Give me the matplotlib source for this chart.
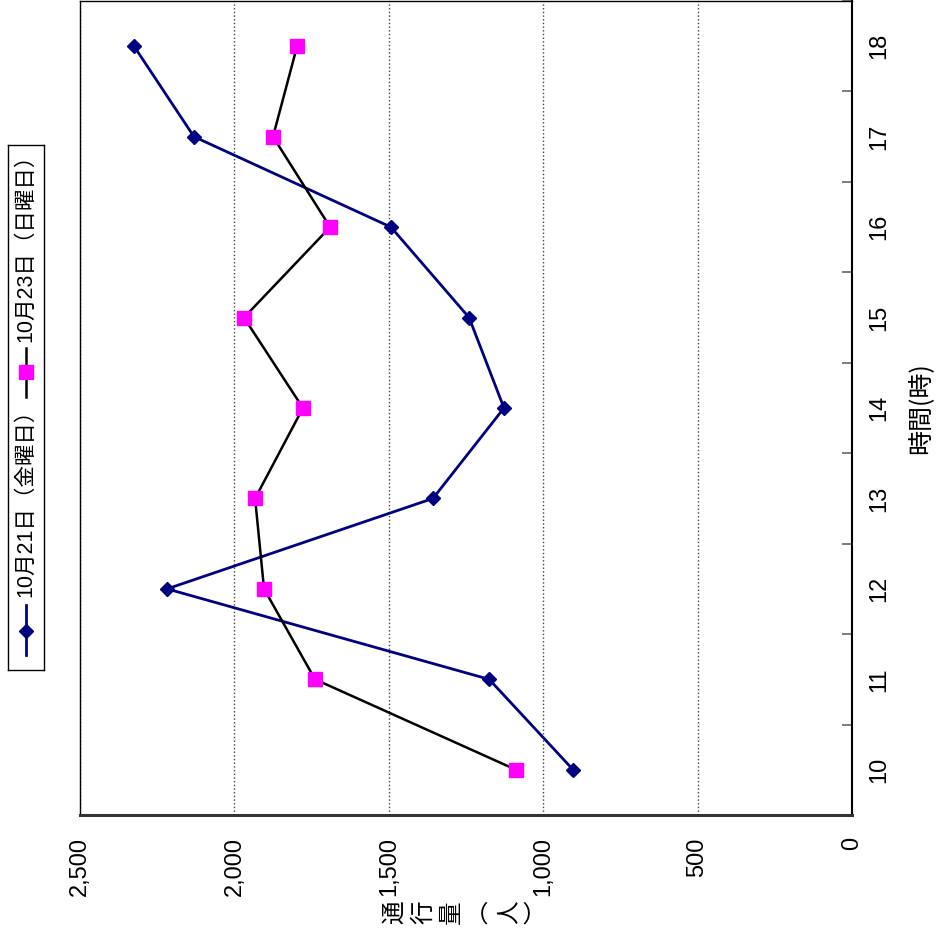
import matplotlib
matplotlib.use("Agg")
import matplotlib.pyplot as plt
from matplotlib.ticker import FuncFormatter, MultipleLocator

plt.rcParams['font.family'] = ['Liberation Sans', 'Noto Sans CJK JP', 'DejaVu Sans']

# data
hours = [10, 11, 12, 13, 14, 15, 16, 17, 18]
oct21 = [903, 1175, 2218, 1357, 1127, 1240, 1493, 2131, 2325]
oct23 = [1088, 1739, 1904, 1933, 1778, 1969, 1690, 1875, 1797]
label21 = "10月21日（金曜日）"
label23 = "10月23日（日曜日）"
value_ticks = [0, 500, 1000, 1500, 2000, 2500]

W, H = 936, 933
fig = plt.figure(figsize=(W / 100, H / 100), dpi=100)

# chart is drawn turned on its side: values run along the bottom (right to left)
ax = fig.add_axes([80 / W, 1 - 815 / H, (852 - 80) / W, 814 / H])
ax.plot(oct21, hours, color="#000080", lw=2, marker="D", ms=7,
        markerfacecolor="#000080", markeredgecolor="#000080", zorder=3)
ax.plot(oct23, hours, color="black", lw=1.8, marker="s", ms=10,
        markerfacecolor="#FF00FF", markeredgecolor="#FF00FF", zorder=4)

ax.set_xlim(2500, 0)
ax.set_ylim(9.5, 18.5)
ax.set_xticks(value_ticks)
ax.xaxis.set_major_formatter(FuncFormatter(lambda v, p: f"{int(v):,}"))
ax.tick_params(axis="x", length=0, pad=16, labelsize=17, labelrotation=90)
for t in ax.get_xticklabels():
    t.set_va("top")

ax.yaxis.tick_right()
ax.set_yticks(hours)
ax.yaxis.set_minor_locator(MultipleLocator(1, offset=0.5))
ax.tick_params(axis="y", which="major", length=0, pad=12, labelsize=17, labelrotation=90)
ax.tick_params(axis="y", which="minor", length=7, direction="in", color="#666666", width=1.2)
for t in ax.get_yticklabels():
    t.set_va("center")
    t.set_ha("left")

ax.grid(axis="x", linestyle=":", color="#444444", lw=1)
ax.set_axisbelow(True)
for s in ["left", "top"]:
    ax.spines[s].set_linewidth(1)
    ax.spines[s].set_color("black")
ax.spines["right"].set_linewidth(1.5)
ax.spines["right"].set_color("black")
ax.spines["bottom"].set_linewidth(2.2)
ax.spines["bottom"].set_color("#333333")

# axis titles
fig.text(920 / W, 1 - 408 / H, "時間(時)", rotation=90, ha="center", va="center",
         fontsize=18, family=["Noto Sans CJK JP", "DejaVu Sans"])
fig.text(466 / W, 1 - 912 / H, "\n".join("通行量︵人︶"), rotation=90,
         ha="center", va="center", fontsize=17, linespacing=1.3,
         family=["Noto Sans CJK JP", "DejaVu Sans"])

# legend, also turned on its side
lax = fig.add_axes([8 / W, 1 - 670 / H, 36 / W, 525 / H])
lax.set_xlim(0, 1)
lax.set_ylim(670, 145)
lax.set_xticks([])
lax.set_yticks([])
for s in lax.spines.values():
    s.set_linewidth(1)
    s.set_color("black")
lax.plot([0.5, 0.5], [655, 605], color="#000080", lw=2)
lax.plot([0.5], [631], marker="D", ms=7, color="#000080")
lax.text(0.5, 597, label21, rotation=90, ha="center", va="bottom", fontsize=15.5)
lax.plot([0.5, 0.5], [397, 348], color="black", lw=1.8)
lax.plot([0.5], [372], marker="s", ms=10, color="#FF00FF")
lax.text(0.5, 342, label23, rotation=90, ha="center", va="bottom", fontsize=15.5)

fig.savefig("out.png", dpi=100)
